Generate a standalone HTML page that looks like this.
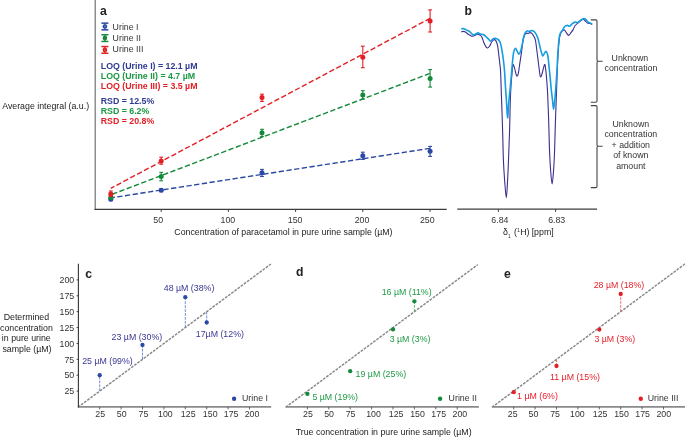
<!DOCTYPE html>
<html><head><meta charset="utf-8"><style>
html,body{margin:0;padding:0;background:#fff;}
svg{display:block;will-change:transform;}
text{font-family:"Liberation Sans", sans-serif;}
</style></head><body>
<svg width="685" height="437" viewBox="0 0 685 437">
<rect width="685" height="437" fill="#fff"/>
<line x1="95.25" y1="0" x2="95.25" y2="209.9" stroke="#8e8e8e" stroke-width="1.5"/>
<line x1="94.6" y1="209.3" x2="446.7" y2="209.3" stroke="#3c3c3c" stroke-width="1.2"/>
<line x1="161.2" y1="209.3" x2="161.2" y2="211.9" stroke="#3c3c3c" stroke-width="1"/>
<line x1="228.4" y1="209.3" x2="228.4" y2="211.9" stroke="#3c3c3c" stroke-width="1"/>
<line x1="295.6" y1="209.3" x2="295.6" y2="211.9" stroke="#3c3c3c" stroke-width="1"/>
<line x1="362.8" y1="209.3" x2="362.8" y2="211.9" stroke="#3c3c3c" stroke-width="1"/>
<line x1="430.0" y1="209.3" x2="430.0" y2="211.9" stroke="#3c3c3c" stroke-width="1"/>
<text x="158.2" y="222.7" font-size="8.8" fill="#333" text-anchor="middle" font-weight="normal" >50</text>
<text x="227.9" y="222.7" font-size="8.8" fill="#333" text-anchor="middle" font-weight="normal" >100</text>
<text x="295.1" y="222.7" font-size="8.8" fill="#333" text-anchor="middle" font-weight="normal" >150</text>
<text x="362.0" y="222.7" font-size="8.8" fill="#333" text-anchor="middle" font-weight="normal" >200</text>
<text x="427.3" y="222.7" font-size="8.8" fill="#333" text-anchor="middle" font-weight="normal" >250</text>
<text x="174.3" y="234.7" font-size="8.8" fill="#222" text-anchor="start" font-weight="normal" >Concentration of paracetamol in pure urine sample (µM)</text>
<text x="2.2" y="108.9" font-size="8.8" fill="#222" text-anchor="start" font-weight="normal" >Average integral (a.u.)</text>
<text x="100.0" y="14.8" font-size="12.2" fill="#222" text-anchor="start" font-weight="bold" >a</text>
<line x1="104.9" y1="23.15" x2="104.9" y2="29.85" stroke="#2b48a3" stroke-width="1.2"/>
<line x1="101.4" y1="23.15" x2="108.4" y2="23.15" stroke="#2b48a3" stroke-width="1.5"/>
<line x1="101.4" y1="29.85" x2="108.4" y2="29.85" stroke="#2b48a3" stroke-width="1.5"/>
<circle cx="104.9" cy="26.5" r="2.35" fill="#2b48a3"/>
<circle cx="104.9" cy="26.5" r="0.9" fill="#3f86c8"/>
<text x="112.6" y="29.9" font-size="8.8" fill="#333" text-anchor="start" font-weight="normal" >Urine I</text>
<line x1="104.9" y1="34.75" x2="104.9" y2="41.45" stroke="#138a3a" stroke-width="1.2"/>
<line x1="101.4" y1="34.75" x2="108.4" y2="34.75" stroke="#138a3a" stroke-width="1.5"/>
<line x1="101.4" y1="41.45" x2="108.4" y2="41.45" stroke="#138a3a" stroke-width="1.5"/>
<circle cx="104.9" cy="38.1" r="2.35" fill="#138a3a"/>
<circle cx="104.9" cy="38.1" r="0.9" fill="#3d6f55"/>
<text x="112.6" y="40.9" font-size="8.8" fill="#333" text-anchor="start" font-weight="normal" >Urine II</text>
<line x1="104.9" y1="46.55" x2="104.9" y2="53.25" stroke="#e31e24" stroke-width="1.2"/>
<line x1="101.4" y1="46.55" x2="108.4" y2="46.55" stroke="#e31e24" stroke-width="1.5"/>
<line x1="101.4" y1="53.25" x2="108.4" y2="53.25" stroke="#e31e24" stroke-width="1.5"/>
<circle cx="104.9" cy="49.9" r="2.35" fill="#e31e24"/>
<circle cx="104.9" cy="49.9" r="0.9" fill="#e0561e"/>
<text x="112.6" y="52.4" font-size="8.8" fill="#333" text-anchor="start" font-weight="normal" >Urine III</text>
<text x="100.8" y="68.8" font-size="8.8" fill="#2f3a93" text-anchor="start" font-weight="bold" >LOQ (Urine I) = 12.1 µM</text>
<text x="100.8" y="78.9" font-size="8.8" fill="#1a9843" text-anchor="start" font-weight="bold" >LOQ (Urine II) = 4.7 µM</text>
<text x="100.8" y="88.6" font-size="8.8" fill="#e31e24" text-anchor="start" font-weight="bold" >LOQ (Urine III) = 3.5 µM</text>
<text x="100.7" y="103.9" font-size="8.8" fill="#2f3a93" text-anchor="start" font-weight="bold" >RSD = 12.5%</text>
<text x="100.7" y="114.0" font-size="8.8" fill="#1a9843" text-anchor="start" font-weight="bold" >RSD = 6.2%</text>
<text x="100.7" y="124.3" font-size="8.8" fill="#e31e24" text-anchor="start" font-weight="bold" >RSD = 20.8%</text>
<line x1="110.8" y1="197.89" x2="430" y2="148.32" stroke="#2b48a3" stroke-width="1.4" stroke-dasharray="5.3 2.48" stroke-dashoffset="1.25"/>
<line x1="110.8" y1="194.8" x2="430" y2="73.37" stroke="#138a3a" stroke-width="1.4" stroke-dasharray="5.3 2.48" stroke-dashoffset="-1.47"/>
<line x1="110.8" y1="188.33" x2="430" y2="18.42" stroke="#e31e24" stroke-width="1.4" stroke-dasharray="5.3 2.48" stroke-dashoffset="-6.47"/>
<line x1="110.8" y1="197.8" x2="110.8" y2="200.6" stroke="#2b48a3" stroke-width="1.1"/>
<line x1="108.89999999999999" y1="197.8" x2="112.7" y2="197.8" stroke="#2b48a3" stroke-width="1.1"/>
<line x1="108.89999999999999" y1="200.6" x2="112.7" y2="200.6" stroke="#2b48a3" stroke-width="1.1"/>
<circle cx="110.8" cy="199.2" r="2.5" fill="#2b48a3"/>
<line x1="161.2" y1="189.0" x2="161.2" y2="191.6" stroke="#2b48a3" stroke-width="1.1"/>
<line x1="159.29999999999998" y1="189.0" x2="163.1" y2="189.0" stroke="#2b48a3" stroke-width="1.1"/>
<line x1="159.29999999999998" y1="191.6" x2="163.1" y2="191.6" stroke="#2b48a3" stroke-width="1.1"/>
<circle cx="161.2" cy="190.3" r="2.5" fill="#2b48a3"/>
<line x1="262.0" y1="169.4" x2="262.0" y2="176.5" stroke="#2b48a3" stroke-width="1.1"/>
<line x1="260.1" y1="169.4" x2="263.9" y2="169.4" stroke="#2b48a3" stroke-width="1.1"/>
<line x1="260.1" y1="176.5" x2="263.9" y2="176.5" stroke="#2b48a3" stroke-width="1.1"/>
<circle cx="262.0" cy="172.8" r="2.5" fill="#2b48a3"/>
<line x1="362.8" y1="152.2" x2="362.8" y2="159.4" stroke="#2b48a3" stroke-width="1.1"/>
<line x1="360.90000000000003" y1="152.2" x2="364.7" y2="152.2" stroke="#2b48a3" stroke-width="1.1"/>
<line x1="360.90000000000003" y1="159.4" x2="364.7" y2="159.4" stroke="#2b48a3" stroke-width="1.1"/>
<circle cx="362.8" cy="155.7" r="2.5" fill="#2b48a3"/>
<line x1="430.1" y1="146.4" x2="430.1" y2="156.4" stroke="#2b48a3" stroke-width="1.1"/>
<line x1="428.20000000000005" y1="146.4" x2="432.0" y2="146.4" stroke="#2b48a3" stroke-width="1.1"/>
<line x1="428.20000000000005" y1="156.4" x2="432.0" y2="156.4" stroke="#2b48a3" stroke-width="1.1"/>
<circle cx="430.1" cy="151.3" r="2.5" fill="#2b48a3"/>
<line x1="110.8" y1="196.0" x2="110.8" y2="199.0" stroke="#138a3a" stroke-width="1.1"/>
<line x1="108.89999999999999" y1="196.0" x2="112.7" y2="196.0" stroke="#138a3a" stroke-width="1.1"/>
<line x1="108.89999999999999" y1="199.0" x2="112.7" y2="199.0" stroke="#138a3a" stroke-width="1.1"/>
<circle cx="110.8" cy="197.5" r="2.5" fill="#138a3a"/>
<line x1="161.2" y1="172.4" x2="161.2" y2="180.8" stroke="#138a3a" stroke-width="1.1"/>
<line x1="159.29999999999998" y1="172.4" x2="163.1" y2="172.4" stroke="#138a3a" stroke-width="1.1"/>
<line x1="159.29999999999998" y1="180.8" x2="163.1" y2="180.8" stroke="#138a3a" stroke-width="1.1"/>
<circle cx="161.2" cy="176.4" r="2.5" fill="#138a3a"/>
<line x1="262.0" y1="129.3" x2="262.0" y2="136.6" stroke="#138a3a" stroke-width="1.1"/>
<line x1="260.1" y1="129.3" x2="263.9" y2="129.3" stroke="#138a3a" stroke-width="1.1"/>
<line x1="260.1" y1="136.6" x2="263.9" y2="136.6" stroke="#138a3a" stroke-width="1.1"/>
<circle cx="262.0" cy="132.8" r="2.5" fill="#138a3a"/>
<line x1="362.8" y1="90.7" x2="362.8" y2="99.2" stroke="#138a3a" stroke-width="1.1"/>
<line x1="360.90000000000003" y1="90.7" x2="364.7" y2="90.7" stroke="#138a3a" stroke-width="1.1"/>
<line x1="360.90000000000003" y1="99.2" x2="364.7" y2="99.2" stroke="#138a3a" stroke-width="1.1"/>
<circle cx="362.8" cy="95.1" r="2.5" fill="#138a3a"/>
<line x1="430.1" y1="69.6" x2="430.1" y2="87.1" stroke="#138a3a" stroke-width="1.1"/>
<line x1="428.20000000000005" y1="69.6" x2="432.0" y2="69.6" stroke="#138a3a" stroke-width="1.1"/>
<line x1="428.20000000000005" y1="87.1" x2="432.0" y2="87.1" stroke="#138a3a" stroke-width="1.1"/>
<circle cx="430.1" cy="78.4" r="2.5" fill="#138a3a"/>
<line x1="110.8" y1="191.0" x2="110.8" y2="196.5" stroke="#e31e24" stroke-width="1.1"/>
<line x1="108.89999999999999" y1="191.0" x2="112.7" y2="191.0" stroke="#e31e24" stroke-width="1.1"/>
<line x1="108.89999999999999" y1="196.5" x2="112.7" y2="196.5" stroke="#e31e24" stroke-width="1.1"/>
<circle cx="110.8" cy="194.1" r="2.5" fill="#e31e24"/>
<line x1="161.2" y1="157.2" x2="161.2" y2="164.2" stroke="#e31e24" stroke-width="1.1"/>
<line x1="159.29999999999998" y1="157.2" x2="163.1" y2="157.2" stroke="#e31e24" stroke-width="1.1"/>
<line x1="159.29999999999998" y1="164.2" x2="163.1" y2="164.2" stroke="#e31e24" stroke-width="1.1"/>
<circle cx="161.2" cy="161.1" r="2.5" fill="#e31e24"/>
<line x1="262.0" y1="94.2" x2="262.0" y2="101.4" stroke="#e31e24" stroke-width="1.1"/>
<line x1="260.1" y1="94.2" x2="263.9" y2="94.2" stroke="#e31e24" stroke-width="1.1"/>
<line x1="260.1" y1="101.4" x2="263.9" y2="101.4" stroke="#e31e24" stroke-width="1.1"/>
<circle cx="262.0" cy="97.6" r="2.5" fill="#e31e24"/>
<line x1="362.8" y1="46.2" x2="362.8" y2="67.7" stroke="#e31e24" stroke-width="1.1"/>
<line x1="360.90000000000003" y1="46.2" x2="364.7" y2="46.2" stroke="#e31e24" stroke-width="1.1"/>
<line x1="360.90000000000003" y1="67.7" x2="364.7" y2="67.7" stroke="#e31e24" stroke-width="1.1"/>
<circle cx="362.8" cy="57.2" r="2.5" fill="#e31e24"/>
<line x1="430.1" y1="9.9" x2="430.1" y2="32.0" stroke="#e31e24" stroke-width="1.1"/>
<line x1="428.20000000000005" y1="9.9" x2="432.0" y2="9.9" stroke="#e31e24" stroke-width="1.1"/>
<line x1="428.20000000000005" y1="32.0" x2="432.0" y2="32.0" stroke="#e31e24" stroke-width="1.1"/>
<circle cx="430.1" cy="20.9" r="2.5" fill="#e31e24"/>
<text x="464.6" y="14.8" font-size="12.2" fill="#222" text-anchor="start" font-weight="bold" >b</text>
<path d="M461.20,32.00 C461.52,31.90 462.40,31.40 463.10,31.40 C463.80,31.40 464.53,31.52 465.40,32.00 C466.27,32.48 467.33,33.63 468.30,34.30 C469.27,34.97 470.43,35.68 471.20,36.00 C471.97,36.32 472.23,36.33 472.90,36.20 C473.57,36.07 474.43,35.55 475.20,35.20 C475.97,34.85 476.65,34.07 477.50,34.10 C478.35,34.13 479.55,34.88 480.30,35.40 C481.05,35.92 481.43,36.05 482.00,37.20 C482.57,38.35 483.03,40.68 483.70,42.30 C484.37,43.92 485.33,45.95 486.00,46.90 C486.67,47.85 487.12,48.10 487.70,48.00 C488.28,47.90 488.82,47.35 489.50,46.30 C490.18,45.25 491.05,42.80 491.80,41.70 C492.55,40.60 493.33,39.88 494.00,39.70 C494.67,39.52 495.22,39.68 495.80,40.60 C496.38,41.52 497.03,43.10 497.50,45.20 C497.97,47.30 498.22,50.15 498.60,53.20 C498.98,56.25 499.47,60.37 499.80,63.50 C500.13,66.63 500.33,66.75 500.60,72.00 C500.87,77.25 501.07,85.33 501.40,95.00 C501.73,104.67 502.27,119.17 502.60,130.00 C502.93,140.83 503.07,151.67 503.40,160.00 C503.73,168.33 504.12,173.72 504.60,180.00 C505.08,186.28 505.80,197.70 506.30,197.70 C506.80,197.70 507.23,186.28 507.60,180.00 C507.97,173.72 508.17,168.33 508.50,160.00 C508.83,151.67 509.27,140.83 509.60,130.00 C509.93,119.17 510.12,104.27 510.50,95.00 C510.88,85.73 511.48,79.45 511.90,74.40 C512.32,69.35 512.53,65.65 513.00,64.70 C513.47,63.75 514.12,66.88 514.70,68.70 C515.28,70.52 515.92,74.75 516.50,75.60 C517.08,76.45 517.63,75.92 518.20,73.80 C518.77,71.68 519.33,66.62 519.90,62.90 C520.47,59.18 521.07,55.25 521.60,51.50 C522.13,47.75 522.58,43.17 523.10,40.40 C523.62,37.63 524.13,36.10 524.70,34.90 C525.27,33.70 525.92,33.43 526.50,33.20 C527.08,32.97 527.63,33.60 528.20,33.50 C528.77,33.40 529.33,32.65 529.90,32.60 C530.47,32.55 530.93,32.53 531.60,33.20 C532.27,33.87 533.27,35.47 533.90,36.60 C534.53,37.73 534.88,37.52 535.40,40.00 C535.92,42.48 536.45,47.30 537.00,51.50 C537.55,55.70 538.13,61.02 538.70,65.20 C539.27,69.38 539.82,75.27 540.40,76.60 C540.98,77.93 541.52,75.20 542.20,73.20 C542.88,71.20 543.93,65.37 544.50,64.60 C545.07,63.83 545.23,66.03 545.60,68.60 C545.97,71.17 546.35,75.60 546.70,80.00 C547.05,84.40 547.35,87.50 547.70,95.00 C548.05,102.50 548.50,115.83 548.80,125.00 C549.10,134.17 549.20,142.50 549.50,150.00 C549.80,157.50 550.17,164.33 550.60,170.00 C551.03,175.67 551.60,184.00 552.10,184.00 C552.60,184.00 553.18,175.67 553.60,170.00 C554.02,164.33 554.32,157.50 554.60,150.00 C554.88,142.50 555.00,134.17 555.30,125.00 C555.60,115.83 556.08,103.83 556.40,95.00 C556.72,86.17 556.90,79.17 557.20,72.00 C557.50,64.83 557.87,57.33 558.20,52.00 C558.53,46.67 558.83,43.00 559.20,40.00 C559.57,37.00 559.93,35.45 560.40,34.00 C560.87,32.55 561.33,31.98 562.00,31.30 C562.67,30.62 563.60,29.57 564.40,29.90 C565.20,30.23 566.07,32.38 566.80,33.30 C567.53,34.22 568.12,35.50 568.80,35.40 C569.48,35.30 570.20,33.62 570.90,32.70 C571.60,31.78 572.32,31.05 573.00,29.90 C573.68,28.75 574.20,26.95 575.00,25.80 C575.80,24.65 576.88,23.80 577.80,23.00 C578.72,22.20 579.58,21.62 580.50,21.00 C581.42,20.38 582.50,19.30 583.30,19.30 C584.10,19.30 584.62,20.38 585.30,21.00 C585.98,21.62 586.60,22.58 587.40,23.00 C588.20,23.42 589.30,23.27 590.10,23.50 C590.90,23.73 591.85,24.25 592.20,24.40" fill="none" stroke="#3a2e8f" stroke-width="1.1" stroke-linejoin="round"/>
<path d="M461.20,28.90 C461.62,28.87 462.80,28.50 463.70,28.70 C464.60,28.90 465.65,29.65 466.60,30.10 C467.55,30.55 468.55,30.80 469.40,31.40 C470.25,32.00 471.03,33.12 471.70,33.70 C472.37,34.28 472.73,34.83 473.40,34.90 C474.07,34.97 474.93,34.45 475.70,34.10 C476.47,33.75 477.23,32.82 478.00,32.80 C478.77,32.78 479.43,33.70 480.30,34.00 C481.17,34.30 482.25,34.17 483.20,34.60 C484.15,35.03 485.15,35.88 486.00,36.60 C486.85,37.32 487.53,38.13 488.30,38.90 C489.07,39.67 489.83,41.20 490.60,41.20 C491.37,41.20 492.13,39.38 492.90,38.90 C493.67,38.42 494.35,38.20 495.20,38.30 C496.05,38.40 497.23,38.93 498.00,39.50 C498.77,40.07 499.27,40.57 499.80,41.70 C500.33,42.83 500.73,44.20 501.20,46.30 C501.67,48.40 502.17,51.43 502.60,54.30 C503.03,57.17 503.47,60.55 503.80,63.50 C504.13,66.45 504.33,68.25 504.60,72.00 C504.87,75.75 505.08,81.00 505.40,86.00 C505.72,91.00 506.13,96.70 506.50,102.00 C506.87,107.30 507.23,117.63 507.60,117.80 C507.97,117.97 508.33,107.30 508.70,103.00 C509.07,98.70 509.38,96.33 509.80,92.00 C510.22,87.67 510.77,81.83 511.20,77.00 C511.63,72.17 512.00,67.07 512.40,63.00 C512.80,58.93 513.12,55.03 513.60,52.60 C514.08,50.17 514.73,48.68 515.30,48.40 C515.87,48.12 516.42,49.95 517.00,50.90 C517.58,51.85 518.22,54.00 518.80,54.10 C519.38,54.20 519.93,53.08 520.50,51.50 C521.07,49.92 521.68,46.98 522.20,44.60 C522.72,42.22 523.08,39.20 523.60,37.20 C524.12,35.20 524.73,33.65 525.30,32.60 C525.87,31.55 526.33,31.10 527.00,30.90 C527.67,30.70 528.53,31.47 529.30,31.40 C530.07,31.33 530.83,30.50 531.60,30.50 C532.37,30.50 533.13,30.77 533.90,31.40 C534.67,32.03 535.53,33.15 536.20,34.30 C536.87,35.45 537.33,36.48 537.90,38.30 C538.47,40.12 539.03,42.92 539.60,45.20 C540.17,47.48 540.78,50.20 541.30,52.00 C541.82,53.80 542.17,55.80 542.70,56.00 C543.23,56.20 543.90,53.95 544.50,53.20 C545.10,52.45 545.73,51.03 546.30,51.50 C546.87,51.97 547.45,53.53 547.90,56.00 C548.35,58.47 548.62,62.67 549.00,66.30 C549.38,69.93 549.82,73.85 550.20,77.80 C550.58,81.75 550.92,86.30 551.30,90.00 C551.68,93.70 552.12,96.80 552.50,100.00 C552.88,103.20 553.22,109.20 553.60,109.20 C553.98,109.20 554.40,104.03 554.80,100.00 C555.20,95.97 555.63,90.00 556.00,85.00 C556.37,80.00 556.70,75.18 557.00,70.00 C557.30,64.82 557.43,59.32 557.80,53.90 C558.17,48.48 558.73,41.03 559.20,37.50 C559.67,33.97 560.02,33.97 560.60,32.70 C561.18,31.43 562.02,30.93 562.70,29.90 C563.38,28.87 563.90,27.25 564.70,26.50 C565.50,25.75 566.70,25.45 567.50,25.40 C568.30,25.35 568.70,26.48 569.50,26.20 C570.30,25.92 571.38,24.38 572.30,23.70 C573.22,23.02 574.08,22.32 575.00,22.10 C575.92,21.88 576.88,22.70 577.80,22.40 C578.72,22.10 579.48,20.95 580.50,20.30 C581.52,19.65 582.98,18.62 583.90,18.50 C584.82,18.38 585.30,19.00 586.00,19.60 C586.70,20.20 587.42,21.53 588.10,22.10 C588.78,22.67 589.42,22.68 590.10,23.00 C590.78,23.32 591.85,23.83 592.20,24.00" fill="none" stroke="#149ee2" stroke-width="1.6" stroke-linejoin="round"/>
<line x1="457.3" y1="209.2" x2="597.1" y2="209.2" stroke="#3c3c3c" stroke-width="1.2"/>
<line x1="498.4" y1="209.2" x2="498.4" y2="211.9" stroke="#3c3c3c" stroke-width="1"/>
<line x1="555.6" y1="209.2" x2="555.6" y2="211.9" stroke="#3c3c3c" stroke-width="1"/>
<text x="499.9" y="222.5" font-size="8.8" fill="#333" text-anchor="middle" font-weight="normal" >6.84</text>
<text x="556.7" y="222.5" font-size="8.8" fill="#333" text-anchor="middle" font-weight="normal" >6.83</text>
<text x="503.0" y="235" font-size="8.8" fill="#222">δ<tspan font-size="4.6" dy="2.6">1</tspan><tspan dy="-2.6" dx="1.0"> (</tspan><tspan font-size="4.6" dy="-3.4" dx="0.5">1</tspan><tspan dy="3.4" dx="0.3">H)</tspan><tspan dx="-0.3"> [ppm]</tspan></text>
<path d="M590.8,19.9 H595.8 Q597.0,19.9 597.0,21.099999999999998 V60.0 Q597.0,61.2 598.2,61.2 H602.6 M598.2,61.2 Q597.0,61.2 597.0,62.400000000000006 V101.1 Q597.0,102.3 595.8,102.3 H590.8" fill="none" stroke="#444" stroke-width="1.1"/>
<path d="M590.8,105.6 H595.8 Q597.0,105.6 597.0,106.8 V145.10000000000002 Q597.0,146.3 598.2,146.3 H602.6 M598.2,146.3 Q597.0,146.3 597.0,147.5 V186.4 Q597.0,187.6 595.8,187.6 H590.8" fill="none" stroke="#444" stroke-width="1.1"/>
<text x="629.9" y="60.6" font-size="8.8" fill="#333" text-anchor="middle" font-weight="normal" >Unknown</text>
<text x="631.0" y="70.6" font-size="8.8" fill="#333" text-anchor="middle" font-weight="normal" >concentration</text>
<text x="630.8" y="127.0" font-size="8.8" fill="#333" text-anchor="middle" font-weight="normal" >Unknown</text>
<text x="630.8" y="137.3" font-size="8.8" fill="#333" text-anchor="middle" font-weight="normal" >concentration</text>
<text x="630.8" y="147.9" font-size="8.8" fill="#333" text-anchor="middle" font-weight="normal" >+ addition</text>
<text x="630.8" y="158.2" font-size="8.8" fill="#333" text-anchor="middle" font-weight="normal" >of known</text>
<text x="630.8" y="168.7" font-size="8.8" fill="#333" text-anchor="middle" font-weight="normal" >amount</text>
<line x1="77.8" y1="406.9" x2="271.2" y2="406.9" stroke="#8a8a8a" stroke-width="1.8"/>
<line x1="99.70" y1="406.9" x2="99.70" y2="409.4" stroke="#555" stroke-width="0.9"/>
<text x="100.20" y="417.4" font-size="8.8" fill="#333" text-anchor="middle" font-weight="normal" >25</text>
<line x1="121.10" y1="406.9" x2="121.10" y2="409.4" stroke="#555" stroke-width="0.9"/>
<text x="121.70" y="417.4" font-size="8.8" fill="#333" text-anchor="middle" font-weight="normal" >50</text>
<line x1="142.50" y1="406.9" x2="142.50" y2="409.4" stroke="#555" stroke-width="0.9"/>
<text x="143.50" y="417.4" font-size="8.8" fill="#333" text-anchor="middle" font-weight="normal" >75</text>
<line x1="163.90" y1="406.9" x2="163.90" y2="409.4" stroke="#555" stroke-width="0.9"/>
<text x="165.40" y="417.4" font-size="8.8" fill="#333" text-anchor="middle" font-weight="normal" >100</text>
<line x1="185.30" y1="406.9" x2="185.30" y2="409.4" stroke="#555" stroke-width="0.9"/>
<text x="188.20" y="417.4" font-size="8.8" fill="#333" text-anchor="middle" font-weight="normal" >125</text>
<line x1="206.70" y1="406.9" x2="206.70" y2="409.4" stroke="#555" stroke-width="0.9"/>
<text x="210.20" y="417.4" font-size="8.8" fill="#333" text-anchor="middle" font-weight="normal" >150</text>
<line x1="228.10" y1="406.9" x2="228.10" y2="409.4" stroke="#555" stroke-width="0.9"/>
<text x="231.10" y="417.4" font-size="8.8" fill="#333" text-anchor="middle" font-weight="normal" >175</text>
<line x1="249.50" y1="406.9" x2="249.50" y2="409.4" stroke="#555" stroke-width="0.9"/>
<text x="252.00" y="417.4" font-size="8.8" fill="#333" text-anchor="middle" font-weight="normal" >200</text>
<line x1="78.3" y1="407" x2="270.90" y2="264.01" stroke="#878787" stroke-width="1.45" stroke-dasharray="2.75 1.15" stroke-dashoffset="0.5"/>
<circle cx="234.1" cy="398.8" r="2.2" fill="#2b48a3"/>
<text x="242.0" y="401.0" font-size="8.8" fill="#333" text-anchor="start" font-weight="normal" >Urine I</text>
<line x1="285.5" y1="406.9" x2="478.90000000000003" y2="406.9" stroke="#8a8a8a" stroke-width="1.8"/>
<line x1="307.40" y1="406.9" x2="307.40" y2="409.4" stroke="#555" stroke-width="0.9"/>
<text x="307.90" y="417.4" font-size="8.8" fill="#333" text-anchor="middle" font-weight="normal" >25</text>
<line x1="328.80" y1="406.9" x2="328.80" y2="409.4" stroke="#555" stroke-width="0.9"/>
<text x="329.10" y="417.4" font-size="8.8" fill="#333" text-anchor="middle" font-weight="normal" >50</text>
<line x1="350.20" y1="406.9" x2="350.20" y2="409.4" stroke="#555" stroke-width="0.9"/>
<text x="350.60" y="417.4" font-size="8.8" fill="#333" text-anchor="middle" font-weight="normal" >75</text>
<line x1="371.60" y1="406.9" x2="371.60" y2="409.4" stroke="#555" stroke-width="0.9"/>
<text x="373.50" y="417.4" font-size="8.8" fill="#333" text-anchor="middle" font-weight="normal" >100</text>
<line x1="393.00" y1="406.9" x2="393.00" y2="409.4" stroke="#555" stroke-width="0.9"/>
<text x="396.10" y="417.4" font-size="8.8" fill="#333" text-anchor="middle" font-weight="normal" >125</text>
<line x1="414.40" y1="406.9" x2="414.40" y2="409.4" stroke="#555" stroke-width="0.9"/>
<text x="417.50" y="417.4" font-size="8.8" fill="#333" text-anchor="middle" font-weight="normal" >150</text>
<line x1="435.80" y1="406.9" x2="435.80" y2="409.4" stroke="#555" stroke-width="0.9"/>
<text x="438.70" y="417.4" font-size="8.8" fill="#333" text-anchor="middle" font-weight="normal" >175</text>
<line x1="457.20" y1="406.9" x2="457.20" y2="409.4" stroke="#555" stroke-width="0.9"/>
<text x="459.90" y="417.4" font-size="8.8" fill="#333" text-anchor="middle" font-weight="normal" >200</text>
<line x1="286.0" y1="407" x2="477.74" y2="264.65" stroke="#878787" stroke-width="1.45" stroke-dasharray="2.75 1.15" stroke-dashoffset="0.5"/>
<circle cx="440.1" cy="398.8" r="2.2" fill="#138a3a"/>
<text x="448.6" y="401.0" font-size="8.8" fill="#333" text-anchor="start" font-weight="normal" >Urine II</text>
<line x1="491.8" y1="406.9" x2="685" y2="406.9" stroke="#8a8a8a" stroke-width="1.8"/>
<line x1="513.70" y1="406.9" x2="513.70" y2="409.4" stroke="#555" stroke-width="0.9"/>
<text x="512.70" y="417.4" font-size="8.8" fill="#333" text-anchor="middle" font-weight="normal" >25</text>
<line x1="535.10" y1="406.9" x2="535.10" y2="409.4" stroke="#555" stroke-width="0.9"/>
<text x="533.50" y="417.4" font-size="8.8" fill="#333" text-anchor="middle" font-weight="normal" >50</text>
<line x1="556.50" y1="406.9" x2="556.50" y2="409.4" stroke="#555" stroke-width="0.9"/>
<text x="555.10" y="417.4" font-size="8.8" fill="#333" text-anchor="middle" font-weight="normal" >75</text>
<line x1="577.90" y1="406.9" x2="577.90" y2="409.4" stroke="#555" stroke-width="0.9"/>
<text x="577.40" y="417.4" font-size="8.8" fill="#333" text-anchor="middle" font-weight="normal" >100</text>
<line x1="599.30" y1="406.9" x2="599.30" y2="409.4" stroke="#555" stroke-width="0.9"/>
<text x="600.10" y="417.4" font-size="8.8" fill="#333" text-anchor="middle" font-weight="normal" >125</text>
<line x1="620.70" y1="406.9" x2="620.70" y2="409.4" stroke="#555" stroke-width="0.9"/>
<text x="621.50" y="417.4" font-size="8.8" fill="#333" text-anchor="middle" font-weight="normal" >150</text>
<line x1="642.10" y1="406.9" x2="642.10" y2="409.4" stroke="#555" stroke-width="0.9"/>
<text x="642.60" y="417.4" font-size="8.8" fill="#333" text-anchor="middle" font-weight="normal" >175</text>
<line x1="663.50" y1="406.9" x2="663.50" y2="409.4" stroke="#555" stroke-width="0.9"/>
<text x="663.80" y="417.4" font-size="8.8" fill="#333" text-anchor="middle" font-weight="normal" >200</text>
<line x1="492.3" y1="407" x2="687.47" y2="262.11" stroke="#878787" stroke-width="1.45" stroke-dasharray="2.75 1.15" stroke-dashoffset="0.5"/>
<circle cx="640.8" cy="398.8" r="2.2" fill="#e31e24"/>
<text x="647.7" y="401.0" font-size="8.8" fill="#333" text-anchor="start" font-weight="normal" >Urine III</text>
<line x1="78.4" y1="263.8" x2="78.4" y2="407.5" stroke="#333" stroke-width="1.1"/>
<line x1="76.6" y1="391.11" x2="78.4" y2="391.11" stroke="#333" stroke-width="0.9"/>
<text x="74.2" y="394.31" font-size="8.8" fill="#333" text-anchor="end" font-weight="normal" >25</text>
<line x1="76.6" y1="375.23" x2="78.4" y2="375.23" stroke="#333" stroke-width="0.9"/>
<text x="74.2" y="378.43" font-size="8.8" fill="#333" text-anchor="end" font-weight="normal" >50</text>
<line x1="76.6" y1="359.34" x2="78.4" y2="359.34" stroke="#333" stroke-width="0.9"/>
<text x="74.2" y="362.54" font-size="8.8" fill="#333" text-anchor="end" font-weight="normal" >75</text>
<line x1="76.6" y1="343.45" x2="78.4" y2="343.45" stroke="#333" stroke-width="0.9"/>
<text x="74.2" y="346.65" font-size="8.8" fill="#333" text-anchor="end" font-weight="normal" >100</text>
<line x1="76.6" y1="327.56" x2="78.4" y2="327.56" stroke="#333" stroke-width="0.9"/>
<text x="74.2" y="330.76" font-size="8.8" fill="#333" text-anchor="end" font-weight="normal" >125</text>
<line x1="76.6" y1="311.68" x2="78.4" y2="311.68" stroke="#333" stroke-width="0.9"/>
<text x="74.2" y="314.88" font-size="8.8" fill="#333" text-anchor="end" font-weight="normal" >150</text>
<line x1="76.6" y1="295.79" x2="78.4" y2="295.79" stroke="#333" stroke-width="0.9"/>
<text x="74.2" y="298.99" font-size="8.8" fill="#333" text-anchor="end" font-weight="normal" >175</text>
<line x1="76.6" y1="279.90" x2="78.4" y2="279.90" stroke="#333" stroke-width="0.9"/>
<text x="74.2" y="283.10" font-size="8.8" fill="#333" text-anchor="end" font-weight="normal" >200</text>
<text x="85.2" y="277.6" font-size="12.2" fill="#222" text-anchor="start" font-weight="bold" >c</text>
<text x="295.9" y="276.2" font-size="12.2" fill="#222" text-anchor="start" font-weight="bold" >d</text>
<text x="503.9" y="277.8" font-size="12.2" fill="#222" text-anchor="start" font-weight="bold" >e</text>
<text x="26.4" y="320.4" font-size="8.8" fill="#222" text-anchor="middle" font-weight="normal" >Determined</text>
<text x="26.4" y="330.7" font-size="8.8" fill="#222" text-anchor="middle" font-weight="normal" >concentration</text>
<text x="26.3" y="341.4" font-size="8.8" fill="#222" text-anchor="middle" font-weight="normal" >in pure urine</text>
<text x="27.0" y="351.8" font-size="8.8" fill="#222" text-anchor="middle" font-weight="normal" >sample (µM)</text>
<text x="295.7" y="434.5" font-size="8.8" fill="#222" text-anchor="start" font-weight="normal" >True concentration in pure urine sample (µM)</text>
<line x1="99.70" y1="391.11" x2="99.70" y2="375.23" stroke="#5a78c8" stroke-width="0.85" stroke-dasharray="2.8 1.1"/>
<circle cx="99.70" cy="375.23" r="2.15" fill="#2b48a3"/>
<line x1="142.50" y1="359.34" x2="142.50" y2="344.98" stroke="#5a78c8" stroke-width="0.85" stroke-dasharray="2.8 1.1"/>
<circle cx="142.50" cy="344.98" r="2.15" fill="#2b48a3"/>
<line x1="185.30" y1="327.56" x2="185.30" y2="297.19" stroke="#5a78c8" stroke-width="0.85" stroke-dasharray="2.8 1.1"/>
<circle cx="185.30" cy="297.19" r="2.15" fill="#2b48a3"/>
<line x1="206.70" y1="311.68" x2="206.70" y2="322.48" stroke="#5a78c8" stroke-width="0.85" stroke-dasharray="2.8 1.1"/>
<circle cx="206.70" cy="322.48" r="2.15" fill="#2b48a3"/>
<text x="82.2" y="363.6" font-size="8.8" fill="#3a3793" text-anchor="start" font-weight="normal" >25 µM (99%)</text>
<text x="111.6" y="339.9" font-size="8.8" fill="#3a3793" text-anchor="start" font-weight="normal" >23 µM (30%)</text>
<text x="163.8" y="291.0" font-size="8.8" fill="#3a3793" text-anchor="start" font-weight="normal" >48 µM (38%)</text>
<text x="195.8" y="336.6" font-size="8.8" fill="#3a3793" text-anchor="start" font-weight="normal" >17µM (12%)</text>
<circle cx="307.40" cy="393.91" r="2.15" fill="#138a3a"/>
<circle cx="350.20" cy="371.22" r="2.15" fill="#138a3a"/>
<circle cx="393.00" cy="329.47" r="2.15" fill="#138a3a"/>
<line x1="414.40" y1="311.68" x2="414.40" y2="301.32" stroke="#4aa86a" stroke-width="0.85" stroke-dasharray="2.8 1.1"/>
<circle cx="414.40" cy="301.32" r="2.15" fill="#138a3a"/>
<text x="312.4" y="399.8" font-size="8.8" fill="#1f9a48" text-anchor="start" font-weight="normal" >5 µM (19%)</text>
<text x="355.6" y="376.5" font-size="8.8" fill="#1f9a48" text-anchor="start" font-weight="normal" >19 µM (25%)</text>
<text x="389.7" y="342.0" font-size="8.8" fill="#1f9a48" text-anchor="start" font-weight="normal" >3 µM (3%)</text>
<text x="381.7" y="295.2" font-size="8.8" fill="#1f9a48" text-anchor="start" font-weight="normal" >16 µM (11%)</text>
<circle cx="513.70" cy="392.13" r="2.15" fill="#e31e24"/>
<line x1="556.50" y1="359.34" x2="556.50" y2="366.01" stroke="#ee5a5a" stroke-width="0.85" stroke-dasharray="2.8 1.1"/>
<circle cx="556.50" cy="366.01" r="2.15" fill="#e31e24"/>
<circle cx="599.30" cy="329.60" r="2.15" fill="#e31e24"/>
<line x1="620.70" y1="311.68" x2="620.70" y2="294.01" stroke="#ee5a5a" stroke-width="0.85" stroke-dasharray="2.8 1.1"/>
<circle cx="620.70" cy="294.01" r="2.15" fill="#e31e24"/>
<text x="517.1" y="398.8" font-size="8.8" fill="#e8202a" text-anchor="start" font-weight="normal" >1 µM (6%)</text>
<text x="550.0" y="379.7" font-size="8.8" fill="#e8202a" text-anchor="start" font-weight="normal" >11 µM (15%)</text>
<text x="594.4" y="341.9" font-size="8.8" fill="#e8202a" text-anchor="start" font-weight="normal" >3 µM (3%)</text>
<text x="593.7" y="287.9" font-size="8.8" fill="#e8202a" text-anchor="start" font-weight="normal" >28 µM (18%)</text>
</svg>
</body></html>
